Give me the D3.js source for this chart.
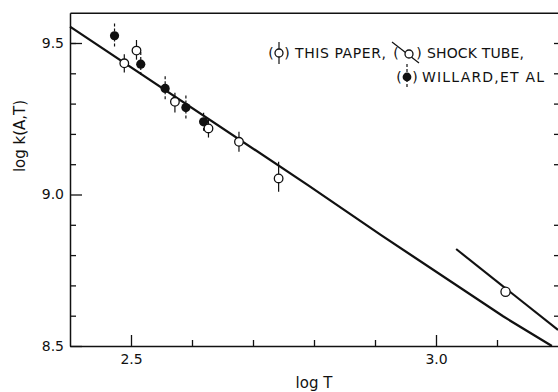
<!DOCTYPE html>
<html>
<head>
<meta charset="utf-8">
<script src="https://cdn.jsdelivr.net/npm/d3@7"></script>
<style>
  body { margin: 0; background: #fff; }
  svg { display: block; }
  text { font-family: "DejaVu Sans", sans-serif; fill: #111; }
</style>
</head>
<body>
<div id="chart"></div>
<script>
// open circles, this paper (log T, log k, error up / down)
var paperT = [2.489, 2.509, 2.572, 2.627, 2.677, 2.742];
var paperK = [9.433, 9.475, 9.306, 9.218, 9.174, 9.053];
var paperUp = [0.03, 0.035, 0.03, 0.03, 0.033, 0.055];
var paperDn = [0.03, 0.03, 0.035, 0.03, 0.033, 0.044];

// filled circles, Willard et al
var willardT = [2.473, 2.516, 2.556, 2.590, 2.619];
var willardK = [9.524, 9.430, 9.350, 9.287, 9.240];
var willardErr = [0.04, 0.04, 0.04, 0.04, 0.03];

// shock tube point
var shockT = [3.114];
var shockK = [8.679];

// fitted curves
var fitT = [2.40, 2.79, 2.91, 3.11, 3.19];
var fitK = [9.554, 9.031, 8.866, 8.598, 8.500];
var shockLineT = [3.033, 3.20];
var shockLineK = [8.820, 8.553];

// ticks
var xMajor = [2.5, 3.0];
var xMinor = [2.6, 2.7, 2.8, 2.9, 3.1];
var yMajor = [8.5, 9.0, 9.5];
var yMinor = [8.6, 8.7, 8.8, 8.9, 9.1, 9.2, 9.3, 9.4, 9.5];

var width = 558, height = 392;
var ink = "#111";

var x = d3.scaleLinear().domain([2.4, 3.2]).range([70, 558]);
var y = d3.scaleLinear().domain([8.5, 9.6]).range([346, 12.7]);

var svg = d3.select("#chart").append("svg")
  .attr("width", width)
  .attr("height", height);

svg.append("rect").attr("width", width).attr("height", height).attr("fill", "#fff");

// axes, ticks point inward
svg.append("g").attr("transform", "translate(70,0)")
  .call(d3.axisLeft(y).tickValues(yMajor).tickSize(-12).tickSizeOuter(0).tickPadding(6)
    .tickFormat(d3.format(".1f")));
svg.append("g").attr("transform", "translate(70,0)")
  .call(d3.axisLeft(y).tickValues(yMinor).tickSize(-6).tickFormat(""))
  .select(".domain").remove();

svg.append("g").attr("transform", "translate(0,346)")
  .call(d3.axisBottom(x).tickValues(xMajor).tickSize(-11).tickSizeOuter(0).tickPadding(8)
    .tickFormat(d3.format(".1f")));
svg.append("g").attr("transform", "translate(0,346)")
  .call(d3.axisBottom(x).tickValues(xMinor).tickSize(-6).tickFormat(""))
  .select(".domain").remove();

svg.append("g").attr("transform", "translate(0,12.7)")
  .call(d3.axisTop(x).tickValues([]).tickSizeOuter(0));

svg.append("g").attr("transform", "translate(558,0)")
  .call(d3.axisRight(y).tickValues(yMinor).tickSize(-4).tickFormat(""))
  .select(".domain").remove();

svg.selectAll(".domain").attr("stroke", ink).attr("stroke-width", 1.5);
svg.selectAll(".tick line").attr("stroke", ink).attr("stroke-width", 1.3);
svg.selectAll(".tick text").attr("font-size", 14).attr("fill", ink)
  .style("font-family", "'DejaVu Sans', sans-serif");

// axis titles
svg.append("text")
  .attr("transform", "translate(25,136) rotate(-90)")
  .attr("text-anchor", "middle")
  .attr("font-size", 15)
  .text("log k(A,T)");

svg.append("text")
  .attr("x", 314).attr("y", 388)
  .attr("text-anchor", "middle")
  .attr("font-size", 15)
  .text("log T");

// curves
var line = d3.line().x(function(d) { return x(d[0]); }).y(function(d) { return y(d[1]); });

svg.append("path")
  .datum(d3.zip(fitT, fitK))
  .attr("d", line)
  .attr("fill", "none").attr("stroke", ink).attr("stroke-width", 2.3);

svg.append("path")
  .datum(d3.zip(shockLineT, shockLineK))
  .attr("d", line)
  .attr("fill", "none").attr("stroke", ink).attr("stroke-width", 2.1);

// error bars
var paper = paperT.map(function(t, i) {
  return { t: t, k: paperK[i], up: paperUp[i], dn: paperDn[i] };
});
var willard = willardT.map(function(t, i) {
  return { t: t, k: willardK[i], up: willardErr[i], dn: willardErr[i] };
});

svg.selectAll(".errP").data(paper).enter().append("line")
  .attr("x1", function(d) { return x(d.t); }).attr("x2", function(d) { return x(d.t); })
  .attr("y1", function(d) { return y(d.k + d.up); }).attr("y2", function(d) { return y(d.k - d.dn); })
  .attr("stroke", ink).attr("stroke-width", 1.2);

svg.selectAll(".errW").data(willard).enter().append("line")
  .attr("x1", function(d) { return x(d.t); }).attr("x2", function(d) { return x(d.t); })
  .attr("y1", function(d) { return y(d.k + d.up); }).attr("y2", function(d) { return y(d.k - d.dn); })
  .attr("stroke", ink).attr("stroke-width", 1.2).attr("stroke-dasharray", "3,2");

// markers
svg.selectAll(".ptW").data(willard).enter().append("circle")
  .attr("cx", function(d) { return x(d.t); })
  .attr("cy", function(d) { return y(d.k); })
  .attr("r", 4.6).attr("fill", ink);

svg.selectAll(".ptP").data(paper).enter().append("circle")
  .attr("cx", function(d) { return x(d.t); })
  .attr("cy", function(d) { return y(d.k); })
  .attr("r", 4.3).attr("fill", "#fff").attr("stroke", ink).attr("stroke-width", 1.3);

svg.selectAll(".ptS").data(d3.zip(shockT, shockK)).enter().append("circle")
  .attr("cx", function(d) { return x(d[0]); })
  .attr("cy", function(d) { return y(d[1]); })
  .attr("r", 4.6).attr("fill", "#fff").attr("stroke", ink).attr("stroke-width", 1.3);

// legend
var lg = svg.append("g").attr("font-size", 14);

function paren(px, py, s) {
  lg.append("text").attr("x", px).attr("y", py).attr("text-anchor", "middle").text(s);
}

// line 1: this paper
paren(271, 58, "(");
lg.append("line").attr("x1", 279).attr("x2", 279).attr("y1", 42).attr("y2", 64)
  .attr("stroke", ink).attr("stroke-width", 1.2);
lg.append("circle").attr("cx", 279).attr("cy", 53).attr("r", 4)
  .attr("fill", "#fff").attr("stroke", ink).attr("stroke-width", 1.3);
paren(287, 58, ")");
lg.append("text").attr("x", 295).attr("y", 58).attr("textLength", 91)
  .attr("lengthAdjust", "spacing").text("THIS PAPER,");

// line 1: shock tube
paren(396, 58, "(");
lg.append("line").attr("x1", 392).attr("y1", 42).attr("x2", 419).attr("y2", 63)
  .attr("stroke", ink).attr("stroke-width", 1.2);
lg.append("circle").attr("cx", 409).attr("cy", 54).attr("r", 4)
  .attr("fill", "#fff").attr("stroke", ink).attr("stroke-width", 1.3);
paren(419, 58, ")");
lg.append("text").attr("x", 427).attr("y", 58).attr("textLength", 97)
  .attr("lengthAdjust", "spacing").text("SHOCK TUBE,");

// line 2: Willard
paren(399, 82, "(");
lg.append("line").attr("x1", 407).attr("x2", 407).attr("y1", 64).attr("y2", 89)
  .attr("stroke", ink).attr("stroke-width", 1.2).attr("stroke-dasharray", "3,2");
lg.append("circle").attr("cx", 407).attr("cy", 77).attr("r", 4.4).attr("fill", ink);
paren(415, 82, ")");
lg.append("text").attr("x", 422).attr("y", 82).attr("textLength", 122)
  .attr("lengthAdjust", "spacing").text("WILLARD,ET AL");
</script>
</body>
</html>
